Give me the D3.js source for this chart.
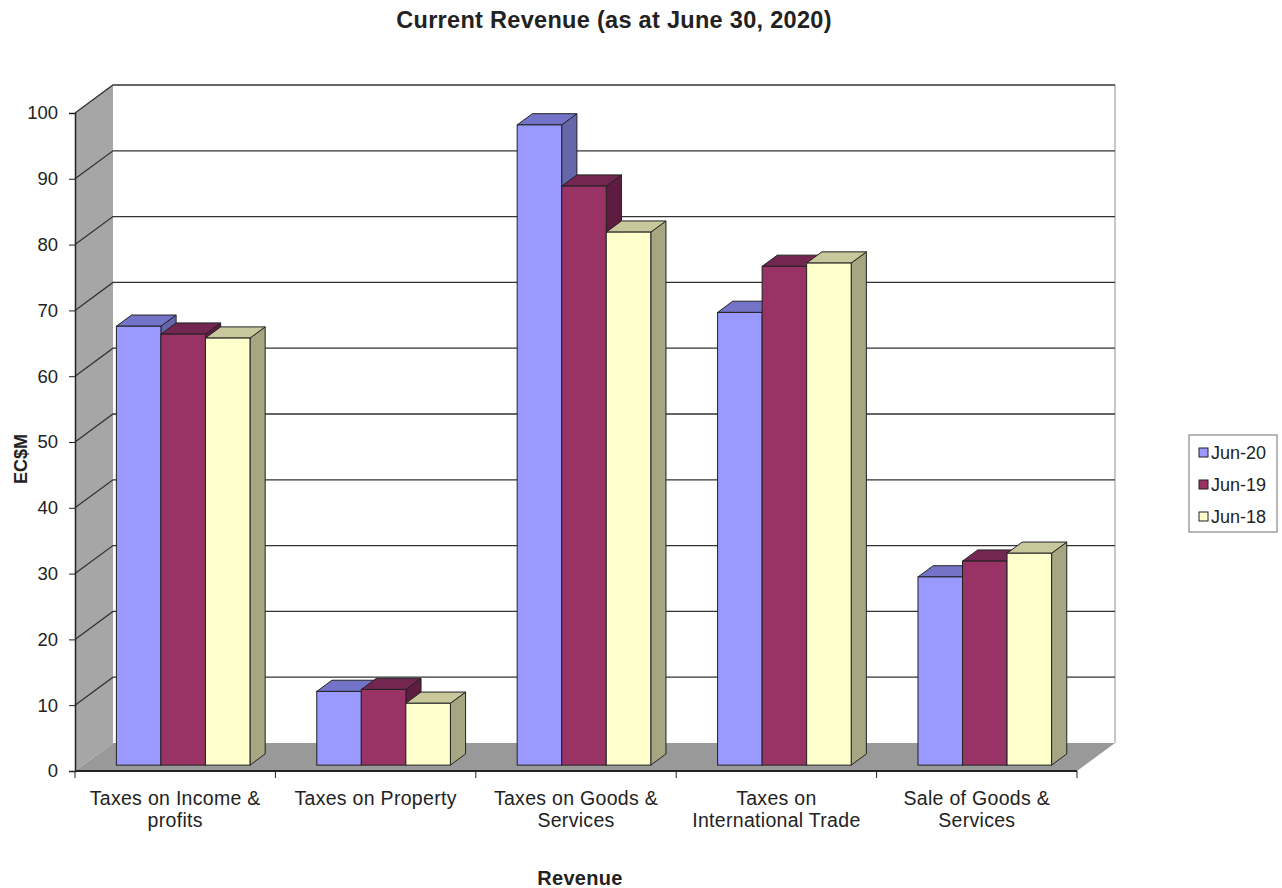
<!DOCTYPE html>
<html>
<head>
<meta charset="utf-8">
<script src="https://cdn.jsdelivr.net/npm/d3@7"></script>
<style>
  body { margin: 0; background: #fff; }
  text { font-family: "Liberation Sans", Arial, sans-serif; fill: #222; }
</style>
</head>
<body>
<div id="chart"></div>
<script>
// data
var categories = [
    ["Taxes on Income &", "profits"],
    ["Taxes on Property"],
    ["Taxes on Goods &", "Services"],
    ["Taxes on", "International Trade"],
    ["Sale of Goods &", "Services"]
];
var seriesNames = ["Jun-20", "Jun-19", "Jun-18"];
var jun20 = [66.7, 11.2, 97.3, 68.8, 28.6];
var jun19 = [65.5, 11.5, 88.0, 75.8, 31.0];
var jun18 = [64.9, 9.4, 81.0, 76.3, 32.2];
var yTicks = [0, 10, 20, 30, 40, 50, 60, 70, 80, 90, 100];

var series = [jun20, jun19, jun18];
var colors = [
    { front: "#9999ff", top: "#7373c8", side: "#6666aa" },
    { front: "#993366", top: "#732650", side: "#5e1d40" },
    { front: "#ffffcc", top: "#c8c89c", side: "#a6a682" }
];

var W = 1282, H = 888;
var x0 = 75, x1 = 1077, yBase = 771, yTop = 113;
var DX = 38, DY = -28; // depth of the 3d box

var svg = d3.select("#chart").append("svg").attr("width", W).attr("height", H);

var y = d3.scaleLinear().domain([0, 100]).range([yBase, yTop]);
var x = d3.scaleBand().domain(d3.range(categories.length)).range([x0, x1]);

// side wall
svg.append("path")
    .attr("d", "M" + x0 + "," + y(100) + "L" + (x0 + DX) + "," + (y(100) + DY) +
        "L" + (x0 + DX) + "," + (yBase + DY) + "L" + x0 + "," + yBase + "Z")
    .attr("fill", "#a6a6a6");

// floor
svg.append("path")
    .attr("d", "M" + x0 + "," + yBase + "L" + (x0 + DX) + "," + (yBase + DY) +
        "L" + (x1 + DX) + "," + (yBase + DY) + "L" + x1 + "," + yBase + "Z")
    .attr("fill", "#999999");

// back wall right edge
svg.append("line")
    .attr("x1", x1 + DX).attr("x2", x1 + DX)
    .attr("y1", y(100) + DY).attr("y2", yBase + DY)
    .attr("stroke", "#c8c8c8").attr("stroke-width", 2);

// gridlines on back wall and side wall
yTicks.forEach(function (t) {
    if (t === 0) return;
    var yy = y(t);
    svg.append("path")
        .attr("d", "M" + x0 + "," + yy + "L" + (x0 + DX) + "," + (yy + DY) + "L" + (x1 + DX) + "," + (yy + DY))
        .attr("fill", "none").attr("stroke", "#333").attr("stroke-width", 1.3);
});

// bars
var bw = x.bandwidth() / 4.5;
var pad = (x.bandwidth() - 3 * bw) / 2;
var fOff = 0.21, bDepth = 0.4;
var fdx = DX * fOff, fdy = DY * fOff, ddx = DX * bDepth, ddy = DY * bDepth;

categories.forEach(function (c, i) {
    series.forEach(function (s, k) {
        var bx = x(i) + fdx + pad + k * bw;
        var by = y(s[i]) + fdy;
        var bb = yBase + fdy;
        var g = svg.append("g");
        g.append("path")
            .attr("d", "M" + (bx + bw) + "," + by + "L" + (bx + bw + ddx) + "," + (by + ddy) +
                "L" + (bx + bw + ddx) + "," + (bb + ddy) + "L" + (bx + bw) + "," + bb + "Z")
            .attr("fill", colors[k].side).attr("stroke", "#222").attr("stroke-width", 1);
        g.append("path")
            .attr("d", "M" + bx + "," + by + "L" + (bx + ddx) + "," + (by + ddy) +
                "L" + (bx + bw + ddx) + "," + (by + ddy) + "L" + (bx + bw) + "," + by + "Z")
            .attr("fill", colors[k].top).attr("stroke", "#222").attr("stroke-width", 1);
        g.append("rect")
            .attr("x", bx).attr("y", by).attr("width", bw).attr("height", bb - by)
            .attr("fill", colors[k].front).attr("stroke", "#222").attr("stroke-width", 1);
    });
});

// y axis
var yAxis = svg.append("g").attr("transform", "translate(" + x0 + ",0)")
    .call(d3.axisLeft(y).tickValues(yTicks).tickSize(6).tickPadding(11));
yAxis.select(".domain").attr("stroke", "#222").attr("stroke-width", 1.5);
yAxis.selectAll(".tick line").attr("stroke", "#222");
yAxis.selectAll(".tick text").attr("font-size", 18.5).attr("fill", "#333")
    .style("font-family", "'Liberation Sans', Arial, sans-serif");

// x axis
svg.append("line").attr("x1", x0).attr("x2", x1).attr("y1", yBase).attr("y2", yBase)
    .attr("stroke", "#222").attr("stroke-width", 2);
d3.range(categories.length + 1).forEach(function (i) {
    var xx = i < categories.length ? x(i) : x1;
    svg.append("line").attr("x1", xx).attr("x2", xx).attr("y1", yBase).attr("y2", yBase + 7)
        .attr("stroke", "#222");
});
categories.forEach(function (lines, i) {
    var t = svg.append("text").attr("text-anchor", "middle").attr("font-size", 19.5)
        .attr("letter-spacing", 0.3)
        .attr("fill", "#333").attr("x", x(i) + x.bandwidth() / 2).attr("y", 805);
    lines.forEach(function (l, j) {
        t.append("tspan").attr("x", x(i) + x.bandwidth() / 2).attr("dy", j === 0 ? 0 : 22).text(l);
    });
});

// titles
svg.append("text").attr("x", 614).attr("y", 28).attr("text-anchor", "middle")
    .attr("font-size", 23.5).attr("letter-spacing", 0.3).attr("font-weight", "bold")
    .text("Current Revenue (as at June 30, 2020)");
svg.append("text").attr("x", 580).attr("y", 885).attr("text-anchor", "middle")
    .attr("font-size", 20).attr("letter-spacing", 0.3).attr("font-weight", "bold").text("Revenue");
svg.append("text").attr("transform", "translate(27,459) rotate(-90)").attr("text-anchor", "middle")
    .attr("font-size", 18).attr("font-weight", "bold").text("EC$M");

// legend
var lg = svg.append("g").attr("transform", "translate(1189,435)");
lg.append("rect").attr("width", 88).attr("height", 97).attr("fill", "#fff")
    .attr("stroke", "#888").attr("stroke-width", 1.2);
seriesNames.forEach(function (n, k) {
    lg.append("rect").attr("x", 10).attr("y", 13 + k * 32).attr("width", 9).attr("height", 9)
        .attr("fill", colors[k].front).attr("stroke", "#222");
    lg.append("text").attr("x", 22).attr("y", 24 + k * 32).attr("font-size", 18)
        .attr("fill", "#333").text(n);
});
</script>
</body>
</html>
